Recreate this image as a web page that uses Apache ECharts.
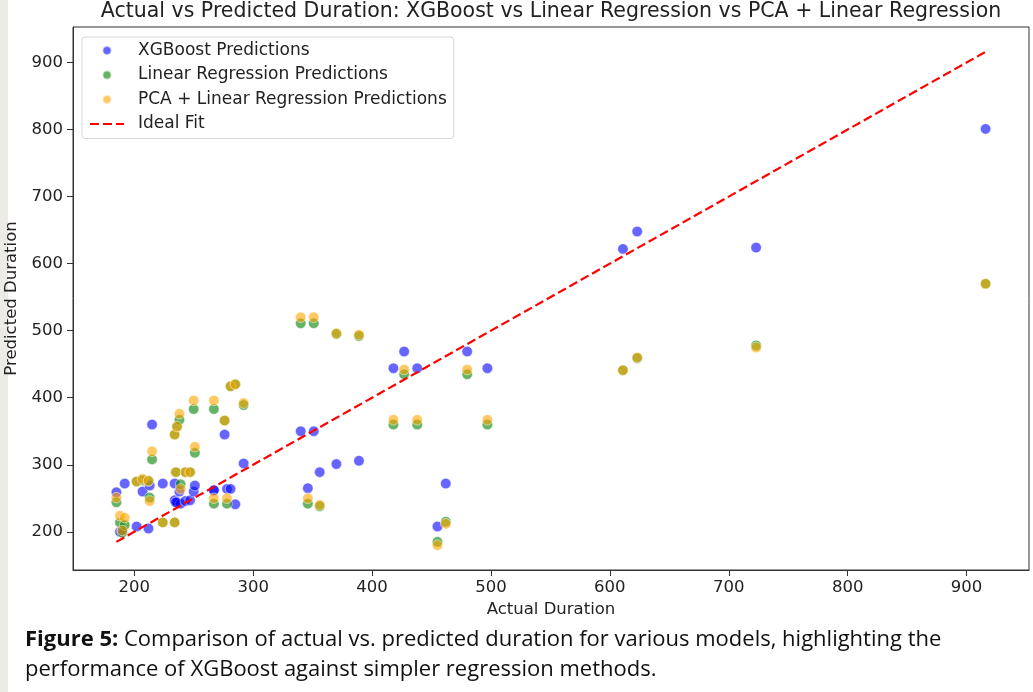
<!DOCTYPE html>
<html>
<head>
<meta charset="utf-8">
<script src="https://cdn.jsdelivr.net/npm/echarts@6/dist/echarts.min.js"></script>
<style>
  html, body { margin: 0; padding: 0; background: #fff; }
  #chart { width: 1033px; height: 692px; }
</style>
</head>
<body>
<div id="chart"></div>
<script>
// actual durations (x) and the three model predictions (y)
var actual = [185, 188, 190, 192, 202, 207, 212, 213, 215, 224, 234, 234, 236, 238, 239, 235, 243, 247, 250, 251,
              267, 267, 276, 278, 281, 285, 292, 340, 351, 346, 356, 370, 389, 418, 427, 438, 455, 462, 480, 497,
              611, 623, 723, 916];
var xgbPred = [259, 200, 202, 272, 208, 260, 205, 269, 360, 272, 272, 247, 244, 260, 242, 244, 246, 247, 260, 269,
               262, 262, 345, 264, 264, 241, 302, 350, 350, 265, 289, 301, 306, 444, 469, 444, 208, 272, 469, 444,
               622, 648, 624, 801];
var lrPred = [244, 214, 199, 210, 275, 277, 276, 251, 308, 214, 214, 345, 357, 367, 271, 289, 289, 289, 383, 318,
              383, 242, 366, 242, 417, 420, 389, 511, 511, 242, 238, 495, 492, 360, 435, 360, 185, 215, 435, 360,
              441, 459, 478, 570];
var pcaPred = [251, 224, 202, 221, 275, 279, 276, 246, 320, 214, 214, 345, 357, 376, 264, 289, 289, 289, 396, 327,
               396, 250, 366, 250, 417, 420, 392, 520, 520, 250, 240, 496, 494, 367, 442, 367, 180, 212, 442, 367,
               441, 460, 475, 570];
var xTicks = [200, 300, 400, 500, 600, 700, 800, 900];
var yTicks = [200, 300, 400, 500, 600, 700, 800, 900];

function pairs(ys) {
    return actual.map(function (x, i) { return [x, ys[i]]; });
}
var lo = Math.min.apply(null, actual);
var hi = Math.max.apply(null, actual);

var myChart = echarts.init(document.getElementById('chart'));
var font = 'DejaVu Sans';

var option = {
    animation: false,
    grid: {     //坐标框
        left: 73,
        right: 4,
        top: 27,
        bottom: 122,
        outerBoundsMode: 'none',
        show: true,
        borderColor: '#333',
        borderWidth: 1
    },
    legend: {
        orient: 'vertical',
        left: 82,
        top: 37,
        padding: [5, 7, 6, 7],
        itemWidth: 34,
        itemHeight: 9,
        itemGap: 7.5,
        backgroundColor: '#fff',
        borderColor: '#d6d6d6',
        borderWidth: 1,
        borderRadius: 3,
        textStyle: {
            fontFamily: font,
            fontSize: 17,
            color: '#222',
            padding: [0, 0, 0, 9]
        },
        data: [
            'XGBoost Predictions',
            'Linear Regression Predictions',
            'PCA + Linear Regression Predictions',
            { name: 'Ideal Fit', itemStyle: { color: 'rgba(0,0,0,0)', borderWidth: 0 } }
        ]
    },
    xAxis: {
        type: 'value',
        min: 148.5,
        max: 952.5,
        name: 'Actual Duration',
        nameLocation: 'middle',
        nameGap: 29,
        nameTextStyle: { fontFamily: font, fontSize: 16.5, color: '#222' },
        axisLine: { show: true, lineStyle: { color: '#333' } },
        axisTick: { show: true, length: 6, customValues: xTicks, lineStyle: { color: '#333' } },
        axisLabel: { customValues: xTicks, margin: 9, fontFamily: font, fontSize: 16.5, color: '#222' },
        splitLine: { show: false }
    },
    yAxis: {
        type: 'value',
        min: 143,
        max: 953,
        name: 'Predicted Duration',
        nameLocation: 'middle',
        nameGap: 50,
        nameTextStyle: { fontFamily: font, fontSize: 16.5, color: '#222' },
        axisLine: { show: true, lineStyle: { color: '#333' } },
        axisTick: { show: true, length: 6, customValues: yTicks, lineStyle: { color: '#333' } },
        axisLabel: { customValues: yTicks, margin: 10, fontFamily: font, fontSize: 16.5, color: '#222' },
        splitLine: { show: false }
    },
    series: [
        {
            name: 'XGBoost Predictions',
            type: 'scatter',
            symbolSize: 10.5,
            data: pairs(xgbPred),
            itemStyle: { color: '#0000ff', opacity: 0.6, borderColor: '#fff', borderWidth: 0.8 }
        },
        {
            name: 'Linear Regression Predictions',
            type: 'scatter',
            symbolSize: 10.5,
            data: pairs(lrPred),
            itemStyle: { color: '#008000', opacity: 0.6, borderColor: '#fff', borderWidth: 0.8 }
        },
        {
            name: 'PCA + Linear Regression Predictions',
            type: 'scatter',
            symbolSize: 10.5,
            data: pairs(pcaPred),
            itemStyle: { color: '#ffa500', opacity: 0.6, borderColor: '#fff', borderWidth: 0.8 }
        },
        {
            name: 'Ideal Fit',
            type: 'line',
            symbol: 'none',
            data: [[lo, lo], [hi, hi]],
            lineStyle: { color: '#ff0000', width: 2.2, type: [9, 4] },
            itemStyle: { color: '#ff0000' }
        }
    ],
    graphic: [
        {   // 左侧浅色边
            type: 'rect',
            left: 0, top: 0,
            shape: { width: 8, height: 692 },
            style: { fill: '#ecebe6' },
            silent: true
        },
        {
            type: 'text',
            x: 551, y: 12,
            style: {
                text: 'Actual vs Predicted Duration: XGBoost vs Linear Regression vs PCA + Linear Regression',
                font: '20.5px "DejaVu Sans"',
                fill: '#222',
                align: 'center',
                verticalAlign: 'middle'
            }
        },
        {
            type: 'text',
            x: 25, y: 625,
            style: {
                text: '{b|Figure 5:} Comparison of actual vs. predicted duration for various models, highlighting the\nperformance of XGBoost against simpler regression methods.',
                fontFamily: 'Open Sans',
                fontSize: 22,
                fill: '#111',
                lineHeight: 30,
                rich: {
                    b: { fontFamily: 'Open Sans', fontSize: 22, fontWeight: 'bold', fill: '#111', lineHeight: 30 }
                }
            }
        }
    ]
};

myChart.setOption(option);
</script>
</body>
</html>
